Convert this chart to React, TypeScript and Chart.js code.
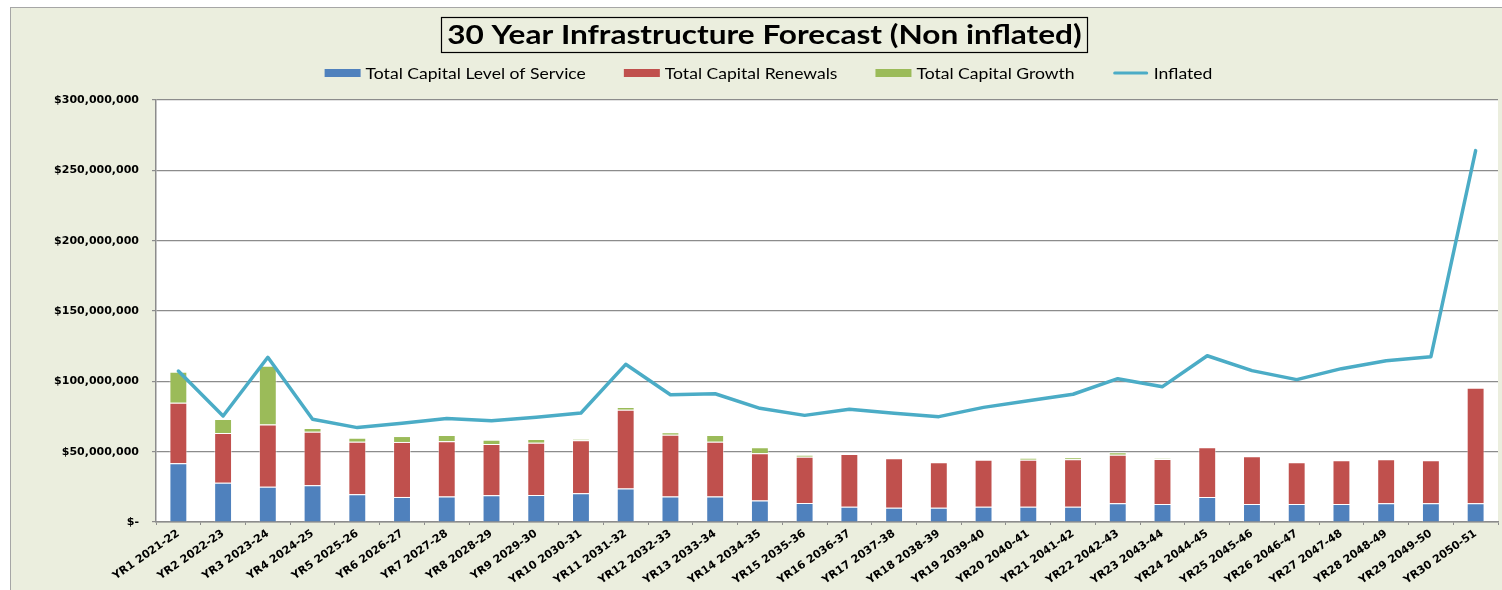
import React, { useEffect, useRef } from "react";
import { Chart, registerables } from "chart.js";

Chart.register(...registerables);

const TITLE = "30 Year Infrastructure Forecast (Non inflated)";

const CATEGORIES = [
  "YR1 2021-22", "YR2 2022-23", "YR3 2023-24", "YR4 2024-25", "YR5 2025-26",
  "YR6 2026-27", "YR7 2027-28", "YR8 2028-29", "YR9 2029-30", "YR10 2030-31",
  "YR11 2031-32", "YR12 2032-33", "YR13 2033-34", "YR14 2034-35", "YR15 2035-36",
  "YR16 2036-37", "YR17 2037-38", "YR18 2038-39", "YR19 2039-40", "YR20 2040-41",
  "YR21 2041-42", "YR22 2042-43", "YR23 2043-44", "YR24 2044-45", "YR25 2045-46",
  "YR26 2046-47", "YR27 2047-48", "YR28 2048-49", "YR29 2049-50", "YR30 2050-51",
];

// values in $ millions
const LEVEL_OF_SERVICE = [
  41.7, 27.9, 25.1, 26.1, 19.7, 17.8, 18.2, 19.0, 19.2, 20.4,
  23.9, 18.2, 18.2, 15.2, 13.5, 10.9, 10.2, 10.2, 10.9, 10.9,
  10.9, 13.3, 12.8, 17.8, 12.8, 12.8, 12.8, 13.3, 13.3, 13.3,
];

const RENEWALS = [
  43.1, 35.4, 44.3, 38.1, 37.4, 39.1, 39.2, 36.4, 37.2, 37.7,
  55.9, 43.9, 38.9, 33.6, 32.9, 37.4, 35.1, 32.2, 33.4, 33.4,
  33.7, 34.5, 32.0, 35.3, 33.9, 29.6, 31.1, 31.3, 30.6, 82.2,
];

const GROWTH = [
  22.1, 9.9, 41.7, 2.6, 2.8, 4.2, 4.4, 3.1, 2.6, 0.9,
  2.0, 1.7, 4.7, 4.3, 1.4, 0, 0, 0, 0, 1.2,
  1.4, 1.7, 0.5, 0, 0, 0, 0, 0, 0, 0,
];

const INFLATED = [
  107.3, 75.4, 117.1, 73.0, 67.1, 70.2, 73.5, 72.0, 74.4, 77.5,
  112.1, 90.5, 91.2, 80.8, 75.8, 80.1, 77.3, 74.9, 81.5, 86.2,
  90.8, 101.9, 96.2, 118.2, 107.6, 101.2, 109.0, 114.7, 117.5, 264.0,
];

const Y_MIN = 0;
const Y_MAX = 300000000;
const Y_STEP = 50000000;

const SERIES_NAMES = [
  "Total Capital Level of Service",
  "Total Capital Renewals",
  "Total Capital Growth",
  "Inflated",
];

const COLORS = ["#4F81BD", "#C0504D", "#9BBB59", "#4BACC6"];
const FRAME_BG = "#EBEEDE";
const GRID = "#8C8C8C";

const M = 1000000;

const CANVAS_W = 1510;
const CANVAS_H = 600;
const TEXT_STRETCH = 1.17;

function fmtMoney(v: number): string {
  if (v === 0) return "$-";
  return "$" + Math.round(v).toLocaleString("en-US");
}

const plotBgPlugin = {
  id: "plotBg",
  beforeDraw(chart: any) {
    const { ctx, chartArea } = chart;
    ctx.save();
    ctx.fillStyle = "#FFFFFF";
    ctx.fillRect(chartArea.left, chartArea.top, chartArea.right - chartArea.left, chartArea.bottom - chartArea.top);
    ctx.restore();
  },
};

function stretchedText(ctx: any, text: string, x: number, y: number) {
  ctx.save();
  ctx.translate(x, y);
  ctx.scale(TEXT_STRETCH, 1);
  ctx.fillText(text, 0, 0);
  ctx.restore();
}

const titleLegendPlugin = {
  id: "titleLegend",
  afterDraw(chart: any) {
    const { ctx } = chart;
    ctx.save();
    // Title with box
    ctx.font = "bold 27px Lato";
    const tw = ctx.measureText(TITLE).width * TEXT_STRETCH;
    const cx = chart.width / 2 - 1.5;
    const top = 9;
    const h = 35;
    ctx.strokeStyle = "#000000";
    ctx.lineWidth = 1.2;
    ctx.strokeRect(Math.round(cx - tw / 2 - 6) + 0.5, top + 0.5, Math.round(tw + 12), h);
    ctx.fillStyle = "#000000";
    ctx.textAlign = "center";
    ctx.textBaseline = "middle";
    stretchedText(ctx, TITLE, cx, top + h / 2 + 1);

    // Legend
    ctx.font = "15px Lato";
    const swW = 36;
    const gapText = 5;
    const gapItem = 38;
    const widths = SERIES_NAMES.map((n) => swW + gapText + ctx.measureText(n).width * TEXT_STRETCH);
    const total = widths.reduce((a, b) => a + b, 0) + gapItem * (SERIES_NAMES.length - 1);
    let x = chart.width / 2 + 2.5 - total / 2;
    const ly = 65;
    ctx.textAlign = "left";
    SERIES_NAMES.forEach((name, i) => {
      if (i < 3) {
        ctx.fillStyle = COLORS[i];
        ctx.fillRect(x, ly - 4, swW, 8);
      } else {
        ctx.strokeStyle = COLORS[i];
        ctx.lineWidth = 3;
        ctx.lineCap = "round";
        ctx.beginPath();
        ctx.moveTo(x + 2, ly);
        ctx.lineTo(x + swW - 2, ly);
        ctx.stroke();
      }
      ctx.fillStyle = "#000000";
      stretchedText(ctx, name, x + swW + gapText, ly + 1);
      x += widths[i] + gapItem;
    });
    ctx.restore();
  },
};

export default function App() {
  const canvasRef = useRef<HTMLCanvasElement | null>(null);

  useEffect(() => {
    const canvas = canvasRef.current;
    if (!canvas) return;
    const barBorder = "rgba(255,255,255,0.45)";
    const chart = new Chart(canvas, {
      type: "bar",
      data: {
        labels: CATEGORIES,
        datasets: [
          {
            type: "line",
            label: SERIES_NAMES[3],
            data: INFLATED.map((v) => v * M),
            borderColor: COLORS[3],
            backgroundColor: COLORS[3],
            borderWidth: 3.5,
            pointRadius: 0,
            pointHoverRadius: 0,
            tension: 0,
            borderJoinStyle: "round",
            borderCapStyle: "round",
            order: 0,
          } as any,
          {
            label: SERIES_NAMES[0],
            data: LEVEL_OF_SERVICE.map((v) => v * M),
            backgroundColor: COLORS[0],
            borderColor: barBorder,
            borderWidth: 1,
            stack: "s",
            categoryPercentage: 1,
            barPercentage: 0.4,
            order: 1,
          },
          {
            label: SERIES_NAMES[1],
            data: RENEWALS.map((v) => v * M),
            backgroundColor: COLORS[1],
            borderColor: barBorder,
            borderWidth: 1,
            stack: "s",
            categoryPercentage: 1,
            barPercentage: 0.4,
            order: 1,
          },
          {
            label: SERIES_NAMES[2],
            data: GROWTH.map((v) => v * M),
            backgroundColor: COLORS[2],
            borderColor: barBorder,
            borderWidth: 1,
            stack: "s",
            categoryPercentage: 1,
            barPercentage: 0.4,
            order: 1,
          },
        ],
      },
      options: {
        responsive: false,
        animation: false,
        devicePixelRatio: 1,
        layout: { padding: { top: 92, right: 23, left: 0, bottom: 0 } },
        plugins: {
          legend: { display: false },
          title: { display: false },
          tooltip: { enabled: false },
        },
        scales: {
          x: {
            stacked: true,
            offset: true,
            grid: {
              display: true,
              drawOnChartArea: false,
              drawTicks: true,
              tickLength: 3,
              color: GRID,
              offset: true,
            },
            border: { display: true, color: GRID, width: 1.5 },
            ticks: {
              autoSkip: false,
              minRotation: 35,
              maxRotation: 35,
              padding: 2,
              color: "#000000",
              font: { family: "DejaVu Sans", weight: "bold", size: 11 },
            },
            afterFit(scale: any) {
              scale.height = CANVAS_H - 514;
            },
          },
          y: {
            stacked: true,
            min: Y_MIN,
            max: Y_MAX,
            ticks: {
              stepSize: Y_STEP,
              padding: 13,
              color: "#000000",
              font: { family: "DejaVu Sans", weight: "bold", size: 11 },
              callback: (v: any) => fmtMoney(Number(v)),
            },
            grid: {
              color: GRID,
              lineWidth: 1.2,
              drawTicks: true,
              tickLength: 4,
            },
            border: { display: true, color: GRID, width: 1.5 },
            afterFit(scale: any) {
              scale.width = 145;
            },
          },
        },
      },
      plugins: [plotBgPlugin, titleLegendPlugin],
    });
    return () => chart.destroy();
  }, []);

  return (
    <div
      style={{
        position: "fixed",
        left: 0,
        top: 0,
        width: 1502,
        height: 590,
        overflow: "hidden",
        background: "#FFFFFF",
      }}
    >
      <div
        style={{
          position: "absolute",
          left: 10,
          top: 7,
          width: CANVAS_W,
          height: CANVAS_H,
          background: FRAME_BG,
          border: "1px solid #A6A6A6",
        }}
      >
        <canvas
          ref={canvasRef}
          width={CANVAS_W}
          height={CANVAS_H}
          style={{ display: "block", width: CANVAS_W, height: CANVAS_H }}
        />
      </div>
    </div>
  );
}
